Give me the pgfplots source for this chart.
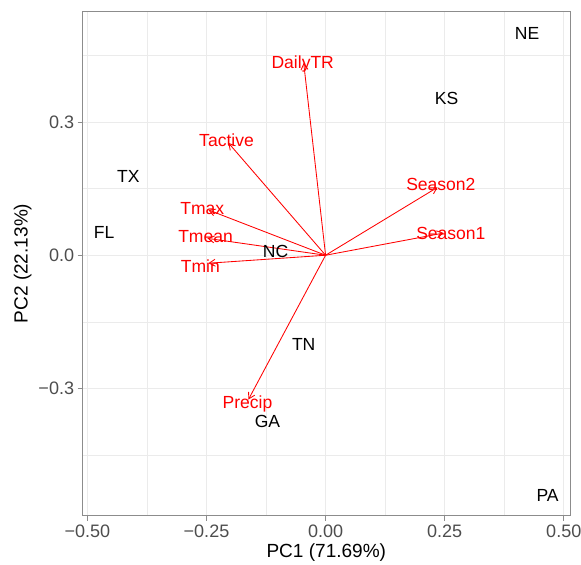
\documentclass[border=0pt]{standalone}
\usepackage{fontspec}
\setmainfont{Liberation Sans}
\usepackage{pgfplots}
\usepackage{pgfplotstable}
\pgfplotsset{compat=1.18}
\usetikzlibrary{arrows.meta}
\definecolor{gridc}{HTML}{EBEBEB}
\definecolor{ticktext}{HTML}{4D4D4D}
\definecolor{framec}{HTML}{8C8C8C}

% state scores
\pgfplotstableread{
x y lab
0.423 0.499 NE
0.254 0.354 KS
-0.414 0.178 TX
-0.465 0.052 FL
-0.105 0.009 NC
-0.046 -0.201 TN
-0.122 -0.374 GA
0.466 -0.541 PA
}\states

% loadings: arrow from (x,y) by (u,v), label at (lx,ly)
\pgfplotstableread{
x y u v lx ly lab
0 0 -0.046 0.433 -0.048 0.431 DailyTR
0 0 -0.204 0.253 -0.208 0.259 Tactive
0 0 0.235 0.153 0.242 0.160 Season2
0 0 0.248 0.050 0.263 0.050 Season1
0 0 -0.246 0.102 -0.259 0.106 Tmax
0 0 -0.248 0.038 -0.252 0.043 Tmean
0 0 -0.246 -0.018 -0.263 -0.025 Tmin
0 0 -0.162 -0.325 -0.164 -0.336 Precip
}\loadings

\begin{document}
\begin{tikzpicture}
\begin{axis}[
  width=486.5pt, height=504pt, scale only axis,
  xmin=-0.510, xmax=0.513, ymin=-0.587, ymax=0.550,
  xtick={-0.5,-0.25,0,0.25,0.5},
  xticklabels={−0.50,−0.25,0.00,0.25,0.50},
  ytick={-0.3,0,0.3},
  yticklabels={−0.3,0.0,0.3},
  minor xtick={-0.375,-0.125,0.125,0.375},
  minor ytick={-0.45,-0.15,0.15,0.45},
  grid=both,
  major grid style={gridc, line width=1pt},
  minor grid style={gridc, line width=0.5pt},
  axis line style={framec, line width=0.8pt},
  tick align=outside, xtick pos=lower, ytick pos=left,
  major tick length=5pt, minor tick length=0pt,
  tick style={framec, line width=0.8pt},
  tick label style={font=\fontsize{18}{20}\selectfont, text=ticktext},
  label style={font=\fontsize{19}{22}\selectfont},
  xlabel={PC1 (71.69\%)}, ylabel={PC2 (22.13\%)},
  clip=false,
]
\coordinate (pSW) at (rel axis cs:0,0);
\coordinate (pNE) at (rel axis cs:1,1);
\addplot[only marks, mark=none, nodes near coords, point meta=explicit symbolic,
  nodes near coords style={anchor=center, text=black, font=\fontsize{17.5}{20}\selectfont}]
  table[x=x, y=y, meta=lab] \states;
\addplot[red, line width=0.85pt, -{Straight Barb[length=6pt, width=7pt]},
  quiver={u=\thisrow{u}, v=\thisrow{v}}]
  table[x=x, y=y] \loadings;
\addplot[only marks, mark=none, nodes near coords, point meta=explicit symbolic,
  nodes near coords style={anchor=center, text=red, font=\fontsize{17.5}{20}\selectfont}]
  table[x=lx, y=ly, meta=lab] \loadings;
\end{axis}
\pgfresetboundingbox
\path ([xshift=-82.5pt, yshift=-49pt]pSW) rectangle ([xshift=11pt, yshift=11pt]pNE);
\end{tikzpicture}
\end{document}
